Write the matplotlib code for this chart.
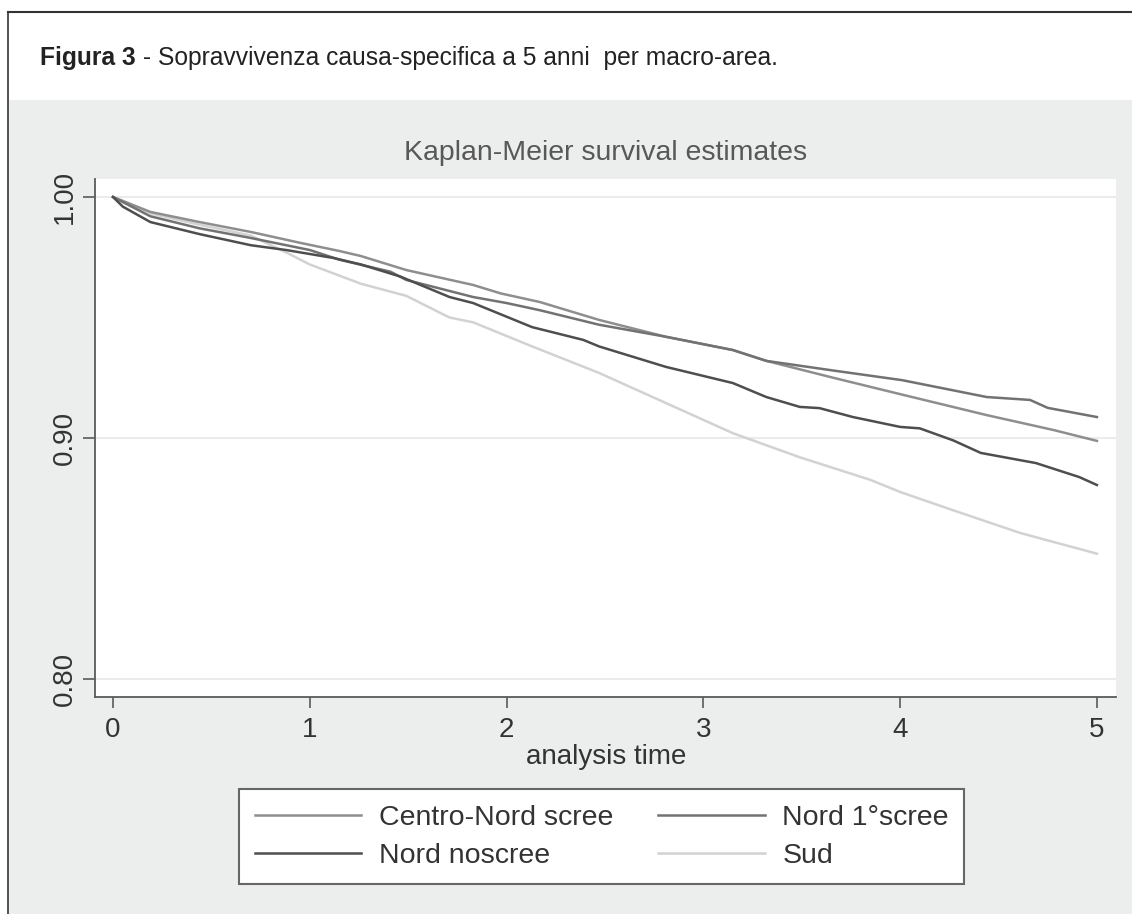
import matplotlib
matplotlib.use("Agg")
import matplotlib.pyplot as plt
from matplotlib.patches import Rectangle
from matplotlib.lines import Line2D

plt.rcParams['font.family'] = ['Liberation Sans', 'DejaVu Sans']

# ---- data ----
labels = ["Centro-Nord scree", "Nord 1°scree", "Nord noscree", "Sud"]

t_centro = [0, 0.19, 0.44, 0.70, 0.95, 1.15, 1.26, 1.49, 1.83, 1.97, 2.17, 2.47, 2.81, 3.15, 3.32, 3.66, 4.01, 4.44, 4.78, 5.0]
s_centro = [1.0, 0.9938, 0.9896, 0.9855, 0.981, 0.9776, 0.9755, 0.9697, 0.9635, 0.960, 0.9564, 0.949, 0.942, 0.9365, 0.932, 0.925, 0.918, 0.9095, 0.9033, 0.8988]

t_nord1 = [0, 0.19, 0.44, 0.70, 1.0, 1.15, 1.41, 1.49, 1.83, 2.0, 2.17, 2.47, 2.81, 3.15, 3.32, 3.66, 4.01, 4.44, 4.66, 4.75, 5.0]
s_nord1 = [1.0, 0.992, 0.987, 0.983, 0.978, 0.974, 0.969, 0.9656, 0.9585, 0.956, 0.953, 0.947, 0.942, 0.9365, 0.932, 0.928, 0.924, 0.917, 0.9158, 0.9125, 0.9087]

t_noscree = [0, 0.05, 0.19, 0.44, 0.70, 0.88, 1.12, 1.26, 1.46, 1.71, 1.83, 2.13, 2.39, 2.47, 2.81, 3.15, 3.32, 3.49, 3.59, 3.76, 4.0, 4.1, 4.27, 4.41, 4.69, 4.91, 5.0]
s_noscree = [1.0, 0.996, 0.9896, 0.9846, 0.980, 0.978, 0.9747, 0.972, 0.967, 0.9585, 0.956, 0.946, 0.9407, 0.938, 0.9295, 0.9228, 0.917, 0.9129, 0.9124, 0.9087, 0.9046, 0.904, 0.899, 0.8938, 0.8896, 0.8838, 0.8805]

t_sud = [0, 0.2, 0.44, 0.7, 0.88, 1.0, 1.26, 1.49, 1.71, 1.83, 2.13, 2.47, 2.81, 3.15, 3.49, 3.85, 4.0, 4.27, 4.61, 5.0]
s_sud = [1.0, 0.993, 0.9885, 0.984, 0.977, 0.972, 0.964, 0.959, 0.950, 0.948, 0.938, 0.927, 0.9145, 0.902, 0.892, 0.8826, 0.8776, 0.870, 0.8606, 0.852]

x_ticks = [0, 1, 2, 3, 4, 5]
y_ticks = [0.80, 0.90, 1.00]
y_ticklabels = ["0.80", "0.90", "1.00"]

# ---- figure ----
W, H = 1132, 914
fig = plt.figure(figsize=(W / 100, H / 100), dpi=100)
fig.patch.set_facecolor("white")

# grey panel + frame lines
fig.patches.append(Rectangle((9 / W, 0), 1 - 9 / W, (H - 100) / H, transform=fig.transFigure,
                             facecolor="#ECEEED", edgecolor="none", zorder=-10))
fig.lines.append(Line2D([8 / W, 8 / W], [0, 1 - 12 / H], transform=fig.transFigure, color="#333333", lw=1.2, zorder=-5))
fig.lines.append(Line2D([8 / W, 1], [1 - 12 / H, 1 - 12 / H], transform=fig.transFigure, color="#333333", lw=1.5, zorder=-5))

# caption
cap_y = 1 - 58 / H
cap1 = fig.text(40 / W, cap_y, "Figura 3", fontsize=17.7, fontweight="bold", color="#222222", va="center")
fig.canvas.draw()
bb = cap1.get_window_extent()
fig.text(bb.x1 / W, cap_y, " - Sopravvivenza causa-specifica a 5 anni  per macro-area.",
         fontsize=17.7, color="#222222", va="center")

ax = fig.add_axes([95 / W, (H - 697) / H, (1116 - 95) / W, (697 - 179) / H])
ax.set_facecolor("white")
ax.set_zorder(1)

colors = {"Centro-Nord scree": "#8e8e8e", "Nord 1°scree": "#727272",
          "Nord noscree": "#4e4e4e", "Sud": "#d2d2d2"}

for yv in y_ticks:
    ax.axhline(yv, color="#EBEBEB", lw=1.5, zorder=1)

h_c, = ax.plot(t_centro, s_centro, color=colors["Centro-Nord scree"], lw=1.8, zorder=3)
h_1, = ax.plot(t_nord1, s_nord1, color=colors["Nord 1°scree"], lw=1.8, zorder=3)
h_n, = ax.plot(t_noscree, s_noscree, color=colors["Nord noscree"], lw=1.8, zorder=3)
h_s, = ax.plot(t_sud, s_sud, color=colors["Sud"], lw=1.8, zorder=2)

ax.set_xlim(-0.0915, 5.097)
ax.set_ylim(0.79253, 1.00747)
ax.spines["top"].set_visible(False)
ax.spines["right"].set_visible(False)
for s in ["left", "bottom"]:
    ax.spines[s].set_color("#5a5a5a")
    ax.spines[s].set_linewidth(1.3)

ax.set_xticks(x_ticks)
ax.set_xticklabels([str(x) for x in x_ticks])
ax.set_yticks(y_ticks)
ax.set_yticklabels(y_ticklabels, rotation=90, va="center")
ax.tick_params(axis="x", length=8, width=1.2, color="#5a5a5a", pad=6.5, labelsize=20, labelcolor="#333333")
ax.tick_params(axis="y", length=8.6, width=1.2, color="#5a5a5a", pad=3.6, labelsize=20, labelcolor="#333333")

fig.text(606 / W, 1 - 153 / H, "Kaplan-Meier survival estimates", fontsize=20.5, color="#585858",
         ha="center", va="center")
fig.text(606 / W, 1 - 757 / H, "analysis time", fontsize=20, color="#333333", ha="center", va="center")

leg = fig.legend([h_c, h_n, h_1, h_s],
                 [labels[0], labels[2], labels[1], labels[3]],
                 ncol=2, loc="upper left", bbox_to_anchor=(239 / W, 1 - 789 / H),
                 fontsize=20.5, handlelength=3.75, handletextpad=0.6, columnspacing=1.6,
                 borderpad=0.55, labelspacing=0.42, borderaxespad=0,
                 fancybox=False, framealpha=1, edgecolor="#666666", facecolor="white")
leg.get_frame().set_linewidth(1.5)
for txt in leg.get_texts():
    txt.set_color("#333333")

fig.savefig("out.png", dpi=100, facecolor=fig.get_facecolor())
